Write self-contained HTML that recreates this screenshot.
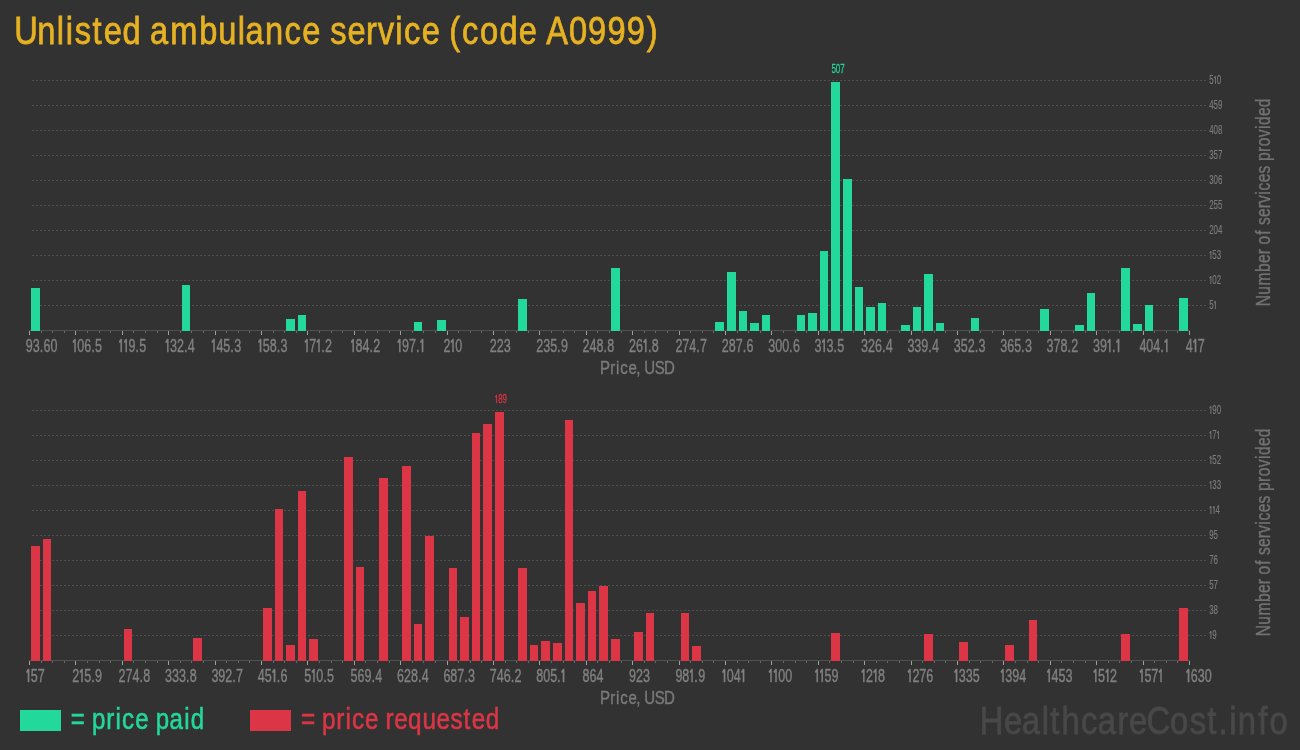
<!DOCTYPE html>
<html><head><meta charset="utf-8"><title>Unlisted ambulance service (code A0999)</title>
<style>html,body{margin:0;padding:0;background:#323232;overflow:hidden}svg{display:block}text{font-family:"Liberation Sans",sans-serif}</style></head><body>
<svg width="1300" height="750" viewBox="0 0 1300 750">
<rect width="1300" height="750" fill="#323232"/>
<text transform="translate(0 43.9) scale(0.8357 1)" x="17.01 44.69 67.98 78.82 89.60 110.63 124.17 146.49 169.06 179.47 203.73 238.40 261.29 284.53 293.90 317.24 340.54 361.56 383.16 395.06 415.74 438.05 451.87 472.84 483.55 504.57 526.17 537.60 552.74 574.31 597.64 620.61 642.21 653.52 680.78 703.64 726.81 749.98 773.83" y="0" font-size="39" fill="#e6b222" stroke="#e6b222" stroke-width="0.8">Unlisted ambulance service (code A0999)</text>
<line x1="32" y1="80.5" x2="1206" y2="80.5" stroke="#4e4e4e" stroke-width="1" stroke-dasharray="2 2"/>
<line x1="32" y1="105.5" x2="1206" y2="105.5" stroke="#4e4e4e" stroke-width="1" stroke-dasharray="2 2"/>
<line x1="32" y1="130.5" x2="1206" y2="130.5" stroke="#4e4e4e" stroke-width="1" stroke-dasharray="2 2"/>
<line x1="32" y1="155.5" x2="1206" y2="155.5" stroke="#4e4e4e" stroke-width="1" stroke-dasharray="2 2"/>
<line x1="32" y1="180.5" x2="1206" y2="180.5" stroke="#4e4e4e" stroke-width="1" stroke-dasharray="2 2"/>
<line x1="32" y1="205.5" x2="1206" y2="205.5" stroke="#4e4e4e" stroke-width="1" stroke-dasharray="2 2"/>
<line x1="32" y1="230.5" x2="1206" y2="230.5" stroke="#4e4e4e" stroke-width="1" stroke-dasharray="2 2"/>
<line x1="32" y1="255.5" x2="1206" y2="255.5" stroke="#4e4e4e" stroke-width="1" stroke-dasharray="2 2"/>
<line x1="32" y1="280.5" x2="1206" y2="280.5" stroke="#4e4e4e" stroke-width="1" stroke-dasharray="2 2"/>
<line x1="32" y1="305.5" x2="1206" y2="305.5" stroke="#4e4e4e" stroke-width="1" stroke-dasharray="2 2"/>
<rect x="29" y="330" width="1161" height="1" fill="#505050"/>
<rect x="29" y="331" width="1" height="4" fill="#a0a0a0"/>
<rect x="41" y="331" width="1" height="2" fill="#6a6a6a"/>
<rect x="52" y="331" width="1" height="2" fill="#6a6a6a"/>
<rect x="64" y="331" width="1" height="2" fill="#6a6a6a"/>
<rect x="75" y="331" width="1" height="4" fill="#a0a0a0"/>
<rect x="87" y="331" width="1" height="2" fill="#6a6a6a"/>
<rect x="99" y="331" width="1" height="2" fill="#6a6a6a"/>
<rect x="110" y="331" width="1" height="2" fill="#6a6a6a"/>
<rect x="122" y="331" width="1" height="4" fill="#a0a0a0"/>
<rect x="133" y="331" width="1" height="2" fill="#6a6a6a"/>
<rect x="145" y="331" width="1" height="2" fill="#6a6a6a"/>
<rect x="157" y="331" width="1" height="2" fill="#6a6a6a"/>
<rect x="168" y="331" width="1" height="4" fill="#a0a0a0"/>
<rect x="180" y="331" width="1" height="2" fill="#6a6a6a"/>
<rect x="191" y="331" width="1" height="2" fill="#6a6a6a"/>
<rect x="203" y="331" width="1" height="2" fill="#6a6a6a"/>
<rect x="215" y="331" width="1" height="4" fill="#a0a0a0"/>
<rect x="226" y="331" width="1" height="2" fill="#6a6a6a"/>
<rect x="238" y="331" width="1" height="2" fill="#6a6a6a"/>
<rect x="249" y="331" width="1" height="2" fill="#6a6a6a"/>
<rect x="261" y="331" width="1" height="4" fill="#a0a0a0"/>
<rect x="273" y="331" width="1" height="2" fill="#6a6a6a"/>
<rect x="284" y="331" width="1" height="2" fill="#6a6a6a"/>
<rect x="296" y="331" width="1" height="2" fill="#6a6a6a"/>
<rect x="307" y="331" width="1" height="4" fill="#a0a0a0"/>
<rect x="319" y="331" width="1" height="2" fill="#6a6a6a"/>
<rect x="331" y="331" width="1" height="2" fill="#6a6a6a"/>
<rect x="342" y="331" width="1" height="2" fill="#6a6a6a"/>
<rect x="354" y="331" width="1" height="4" fill="#a0a0a0"/>
<rect x="365" y="331" width="1" height="2" fill="#6a6a6a"/>
<rect x="377" y="331" width="1" height="2" fill="#6a6a6a"/>
<rect x="389" y="331" width="1" height="2" fill="#6a6a6a"/>
<rect x="400" y="331" width="1" height="4" fill="#a0a0a0"/>
<rect x="412" y="331" width="1" height="2" fill="#6a6a6a"/>
<rect x="423" y="331" width="1" height="2" fill="#6a6a6a"/>
<rect x="435" y="331" width="1" height="2" fill="#6a6a6a"/>
<rect x="447" y="331" width="1" height="4" fill="#a0a0a0"/>
<rect x="458" y="331" width="1" height="2" fill="#6a6a6a"/>
<rect x="470" y="331" width="1" height="2" fill="#6a6a6a"/>
<rect x="481" y="331" width="1" height="2" fill="#6a6a6a"/>
<rect x="493" y="331" width="1" height="4" fill="#a0a0a0"/>
<rect x="505" y="331" width="1" height="2" fill="#6a6a6a"/>
<rect x="516" y="331" width="1" height="2" fill="#6a6a6a"/>
<rect x="528" y="331" width="1" height="2" fill="#6a6a6a"/>
<rect x="539" y="331" width="1" height="4" fill="#a0a0a0"/>
<rect x="551" y="331" width="1" height="2" fill="#6a6a6a"/>
<rect x="563" y="331" width="1" height="2" fill="#6a6a6a"/>
<rect x="574" y="331" width="1" height="2" fill="#6a6a6a"/>
<rect x="586" y="331" width="1" height="4" fill="#a0a0a0"/>
<rect x="597" y="331" width="1" height="2" fill="#6a6a6a"/>
<rect x="609" y="331" width="1" height="2" fill="#6a6a6a"/>
<rect x="621" y="331" width="1" height="2" fill="#6a6a6a"/>
<rect x="632" y="331" width="1" height="4" fill="#a0a0a0"/>
<rect x="644" y="331" width="1" height="2" fill="#6a6a6a"/>
<rect x="655" y="331" width="1" height="2" fill="#6a6a6a"/>
<rect x="667" y="331" width="1" height="2" fill="#6a6a6a"/>
<rect x="679" y="331" width="1" height="4" fill="#a0a0a0"/>
<rect x="690" y="331" width="1" height="2" fill="#6a6a6a"/>
<rect x="702" y="331" width="1" height="2" fill="#6a6a6a"/>
<rect x="713" y="331" width="1" height="2" fill="#6a6a6a"/>
<rect x="725" y="331" width="1" height="4" fill="#a0a0a0"/>
<rect x="737" y="331" width="1" height="2" fill="#6a6a6a"/>
<rect x="748" y="331" width="1" height="2" fill="#6a6a6a"/>
<rect x="760" y="331" width="1" height="2" fill="#6a6a6a"/>
<rect x="771" y="331" width="1" height="4" fill="#a0a0a0"/>
<rect x="783" y="331" width="1" height="2" fill="#6a6a6a"/>
<rect x="795" y="331" width="1" height="2" fill="#6a6a6a"/>
<rect x="806" y="331" width="1" height="2" fill="#6a6a6a"/>
<rect x="818" y="331" width="1" height="4" fill="#a0a0a0"/>
<rect x="829" y="331" width="1" height="2" fill="#6a6a6a"/>
<rect x="841" y="331" width="1" height="2" fill="#6a6a6a"/>
<rect x="853" y="331" width="1" height="2" fill="#6a6a6a"/>
<rect x="864" y="331" width="1" height="4" fill="#a0a0a0"/>
<rect x="876" y="331" width="1" height="2" fill="#6a6a6a"/>
<rect x="887" y="331" width="1" height="2" fill="#6a6a6a"/>
<rect x="899" y="331" width="1" height="2" fill="#6a6a6a"/>
<rect x="911" y="331" width="1" height="4" fill="#a0a0a0"/>
<rect x="922" y="331" width="1" height="2" fill="#6a6a6a"/>
<rect x="934" y="331" width="1" height="2" fill="#6a6a6a"/>
<rect x="945" y="331" width="1" height="2" fill="#6a6a6a"/>
<rect x="957" y="331" width="1" height="4" fill="#a0a0a0"/>
<rect x="969" y="331" width="1" height="2" fill="#6a6a6a"/>
<rect x="980" y="331" width="1" height="2" fill="#6a6a6a"/>
<rect x="992" y="331" width="1" height="2" fill="#6a6a6a"/>
<rect x="1003" y="331" width="1" height="4" fill="#a0a0a0"/>
<rect x="1015" y="331" width="1" height="2" fill="#6a6a6a"/>
<rect x="1027" y="331" width="1" height="2" fill="#6a6a6a"/>
<rect x="1038" y="331" width="1" height="2" fill="#6a6a6a"/>
<rect x="1050" y="331" width="1" height="4" fill="#a0a0a0"/>
<rect x="1061" y="331" width="1" height="2" fill="#6a6a6a"/>
<rect x="1073" y="331" width="1" height="2" fill="#6a6a6a"/>
<rect x="1085" y="331" width="1" height="2" fill="#6a6a6a"/>
<rect x="1096" y="331" width="1" height="4" fill="#a0a0a0"/>
<rect x="1108" y="331" width="1" height="2" fill="#6a6a6a"/>
<rect x="1119" y="331" width="1" height="2" fill="#6a6a6a"/>
<rect x="1131" y="331" width="1" height="2" fill="#6a6a6a"/>
<rect x="1143" y="331" width="1" height="4" fill="#a0a0a0"/>
<rect x="1154" y="331" width="1" height="2" fill="#6a6a6a"/>
<rect x="1166" y="331" width="1" height="2" fill="#6a6a6a"/>
<rect x="1177" y="331" width="1" height="2" fill="#6a6a6a"/>
<rect x="1189" y="331" width="1" height="4" fill="#a0a0a0"/>
<rect x="31" y="288" width="9" height="43" fill="#22d89b"/>
<rect x="182" y="285" width="8" height="46" fill="#22d89b"/>
<rect x="286" y="319" width="9" height="12" fill="#22d89b"/>
<rect x="298" y="315" width="8" height="16" fill="#22d89b"/>
<rect x="414" y="322" width="8" height="9" fill="#22d89b"/>
<rect x="437" y="320" width="9" height="11" fill="#22d89b"/>
<rect x="518" y="299" width="9" height="32" fill="#22d89b"/>
<rect x="611" y="268" width="9" height="63" fill="#22d89b"/>
<rect x="715" y="322" width="9" height="9" fill="#22d89b"/>
<rect x="727" y="272" width="9" height="59" fill="#22d89b"/>
<rect x="739" y="311" width="8" height="20" fill="#22d89b"/>
<rect x="750" y="323" width="9" height="8" fill="#22d89b"/>
<rect x="762" y="315" width="8" height="16" fill="#22d89b"/>
<rect x="797" y="315" width="8" height="16" fill="#22d89b"/>
<rect x="808" y="313" width="9" height="18" fill="#22d89b"/>
<rect x="820" y="251" width="8" height="80" fill="#22d89b"/>
<rect x="831" y="82" width="9" height="249" fill="#22d89b"/>
<rect x="843" y="179" width="9" height="152" fill="#22d89b"/>
<rect x="855" y="287" width="8" height="44" fill="#22d89b"/>
<rect x="866" y="307" width="9" height="24" fill="#22d89b"/>
<rect x="878" y="303" width="8" height="28" fill="#22d89b"/>
<rect x="901" y="325" width="9" height="6" fill="#22d89b"/>
<rect x="913" y="307" width="8" height="24" fill="#22d89b"/>
<rect x="924" y="274" width="9" height="57" fill="#22d89b"/>
<rect x="936" y="323" width="8" height="8" fill="#22d89b"/>
<rect x="971" y="318" width="8" height="13" fill="#22d89b"/>
<rect x="1040" y="309" width="9" height="22" fill="#22d89b"/>
<rect x="1075" y="325" width="9" height="6" fill="#22d89b"/>
<rect x="1087" y="293" width="8" height="38" fill="#22d89b"/>
<rect x="1121" y="268" width="9" height="63" fill="#22d89b"/>
<rect x="1133" y="324" width="9" height="7" fill="#22d89b"/>
<rect x="1145" y="305" width="8" height="26" fill="#22d89b"/>
<rect x="1179" y="298" width="9" height="33" fill="#22d89b"/>
<text transform="translate(25.80 351.50) scale(0.66 1)" x="0.00 10.56 21.13 26.89 37.45" y="0" font-size="19" fill="#808080" stroke="#808080" stroke-width="0.4">93.60</text>
<text transform="translate(72.20 351.50) scale(0.66 1)" x="-1.57 7.58 18.14 28.70 34.46" y="0" font-size="19" fill="#808080" stroke="#808080" stroke-width="0.4"><tspan font-weight="bold" font-family="NanumGothic,'Liberation Sans',sans-serif" font-size="17.59">1</tspan>06.5</text>
<text transform="translate(118.60 351.50) scale(0.66 1)" x="-1.57 6.01 15.15 25.72 31.47" y="0" font-size="19" fill="#808080" stroke="#808080" stroke-width="0.4"><tspan font-weight="bold" font-family="NanumGothic,'Liberation Sans',sans-serif" font-size="17.59">1</tspan><tspan font-weight="bold" font-family="NanumGothic,'Liberation Sans',sans-serif" font-size="17.59">1</tspan>9.5</text>
<text transform="translate(165.00 351.50) scale(0.66 1)" x="-1.57 7.58 18.14 28.70 34.46" y="0" font-size="19" fill="#808080" stroke="#808080" stroke-width="0.4"><tspan font-weight="bold" font-family="NanumGothic,'Liberation Sans',sans-serif" font-size="17.59">1</tspan>32.4</text>
<text transform="translate(211.40 351.50) scale(0.66 1)" x="-1.57 7.58 18.14 28.70 34.46" y="0" font-size="19" fill="#808080" stroke="#808080" stroke-width="0.4"><tspan font-weight="bold" font-family="NanumGothic,'Liberation Sans',sans-serif" font-size="17.59">1</tspan>45.3</text>
<text transform="translate(257.80 351.50) scale(0.66 1)" x="-1.57 7.58 18.14 28.70 34.46" y="0" font-size="19" fill="#808080" stroke="#808080" stroke-width="0.4"><tspan font-weight="bold" font-family="NanumGothic,'Liberation Sans',sans-serif" font-size="17.59">1</tspan>58.3</text>
<text transform="translate(304.20 351.50) scale(0.66 1)" x="-1.57 7.58 16.57 25.72 31.47" y="0" font-size="19" fill="#808080" stroke="#808080" stroke-width="0.4"><tspan font-weight="bold" font-family="NanumGothic,'Liberation Sans',sans-serif" font-size="17.59">1</tspan>7<tspan font-weight="bold" font-family="NanumGothic,'Liberation Sans',sans-serif" font-size="17.59">1</tspan>.2</text>
<text transform="translate(350.60 351.50) scale(0.66 1)" x="-1.57 7.58 18.14 28.70 34.46" y="0" font-size="19" fill="#808080" stroke="#808080" stroke-width="0.4"><tspan font-weight="bold" font-family="NanumGothic,'Liberation Sans',sans-serif" font-size="17.59">1</tspan>84.2</text>
<text transform="translate(397.00 351.50) scale(0.66 1)" x="-1.57 7.58 18.14 28.70 32.89" y="0" font-size="19" fill="#808080" stroke="#808080" stroke-width="0.4"><tspan font-weight="bold" font-family="NanumGothic,'Liberation Sans',sans-serif" font-size="17.59">1</tspan>97.<tspan font-weight="bold" font-family="NanumGothic,'Liberation Sans',sans-serif" font-size="17.59">1</tspan></text>
<text transform="translate(443.40 351.50) scale(0.66 1)" x="0.00 8.99 18.14" y="0" font-size="19" fill="#808080" stroke="#808080" stroke-width="0.4">2<tspan font-weight="bold" font-family="NanumGothic,'Liberation Sans',sans-serif" font-size="17.59">1</tspan>0</text>
<text transform="translate(489.80 351.50) scale(0.66 1)" x="0.00 10.56 21.13" y="0" font-size="19" fill="#808080" stroke="#808080" stroke-width="0.4">223</text>
<text transform="translate(536.20 351.50) scale(0.66 1)" x="0.00 10.56 21.13 31.69 37.45" y="0" font-size="19" fill="#808080" stroke="#808080" stroke-width="0.4">235.9</text>
<text transform="translate(582.60 351.50) scale(0.66 1)" x="0.00 10.56 21.13 31.69 37.45" y="0" font-size="19" fill="#808080" stroke="#808080" stroke-width="0.4">248.8</text>
<text transform="translate(629.00 351.50) scale(0.66 1)" x="0.00 10.56 19.56 28.70 34.46" y="0" font-size="19" fill="#808080" stroke="#808080" stroke-width="0.4">26<tspan font-weight="bold" font-family="NanumGothic,'Liberation Sans',sans-serif" font-size="17.59">1</tspan>.8</text>
<text transform="translate(675.40 351.50) scale(0.66 1)" x="0.00 10.56 21.13 31.69 37.45" y="0" font-size="19" fill="#808080" stroke="#808080" stroke-width="0.4">274.7</text>
<text transform="translate(721.80 351.50) scale(0.66 1)" x="0.00 10.56 21.13 31.69 37.45" y="0" font-size="19" fill="#808080" stroke="#808080" stroke-width="0.4">287.6</text>
<text transform="translate(768.20 351.50) scale(0.66 1)" x="0.00 10.56 21.13 31.69 37.45" y="0" font-size="19" fill="#808080" stroke="#808080" stroke-width="0.4">300.6</text>
<text transform="translate(814.60 351.50) scale(0.66 1)" x="0.00 8.99 18.14 28.70 34.46" y="0" font-size="19" fill="#808080" stroke="#808080" stroke-width="0.4">3<tspan font-weight="bold" font-family="NanumGothic,'Liberation Sans',sans-serif" font-size="17.59">1</tspan>3.5</text>
<text transform="translate(861.00 351.50) scale(0.66 1)" x="0.00 10.56 21.13 31.69 37.45" y="0" font-size="19" fill="#808080" stroke="#808080" stroke-width="0.4">326.4</text>
<text transform="translate(907.40 351.50) scale(0.66 1)" x="0.00 10.56 21.13 31.69 37.45" y="0" font-size="19" fill="#808080" stroke="#808080" stroke-width="0.4">339.4</text>
<text transform="translate(953.80 351.50) scale(0.66 1)" x="0.00 10.56 21.13 31.69 37.45" y="0" font-size="19" fill="#808080" stroke="#808080" stroke-width="0.4">352.3</text>
<text transform="translate(1000.20 351.50) scale(0.66 1)" x="0.00 10.56 21.13 31.69 37.45" y="0" font-size="19" fill="#808080" stroke="#808080" stroke-width="0.4">365.3</text>
<text transform="translate(1046.60 351.50) scale(0.66 1)" x="0.00 10.56 21.13 31.69 37.45" y="0" font-size="19" fill="#808080" stroke="#808080" stroke-width="0.4">378.2</text>
<text transform="translate(1093.00 351.50) scale(0.66 1)" x="0.00 10.56 19.56 28.70 32.89" y="0" font-size="19" fill="#808080" stroke="#808080" stroke-width="0.4">39<tspan font-weight="bold" font-family="NanumGothic,'Liberation Sans',sans-serif" font-size="17.59">1</tspan>.<tspan font-weight="bold" font-family="NanumGothic,'Liberation Sans',sans-serif" font-size="17.59">1</tspan></text>
<text transform="translate(1139.40 351.50) scale(0.66 1)" x="0.00 10.56 21.13 31.69 35.88" y="0" font-size="19" fill="#808080" stroke="#808080" stroke-width="0.4">404.<tspan font-weight="bold" font-family="NanumGothic,'Liberation Sans',sans-serif" font-size="17.59">1</tspan></text>
<text transform="translate(1185.80 351.50) scale(0.66 1)" x="0.00 8.99 18.14" y="0" font-size="19" fill="#808080" stroke="#808080" stroke-width="0.4">4<tspan font-weight="bold" font-family="NanumGothic,'Liberation Sans',sans-serif" font-size="17.59">1</tspan>7</text>
<text transform="translate(1209.20 83.80) scale(0.66 1)" x="0.00 5.68 11.46" y="0" font-size="12" fill="#7c7c7c" stroke="#7c7c7c" stroke-width="0.15">5<tspan font-weight="bold" font-family="NanumGothic,'Liberation Sans',sans-serif" font-size="11.11">1</tspan>0</text>
<text transform="translate(1209.20 108.80) scale(0.66 1)" x="0.00 6.67 13.34" y="0" font-size="12" fill="#7c7c7c" stroke="#7c7c7c" stroke-width="0.15">459</text>
<text transform="translate(1209.20 133.80) scale(0.66 1)" x="0.00 6.67 13.34" y="0" font-size="12" fill="#7c7c7c" stroke="#7c7c7c" stroke-width="0.15">408</text>
<text transform="translate(1209.20 158.80) scale(0.66 1)" x="0.00 6.67 13.34" y="0" font-size="12" fill="#7c7c7c" stroke="#7c7c7c" stroke-width="0.15">357</text>
<text transform="translate(1209.20 183.80) scale(0.66 1)" x="0.00 6.67 13.34" y="0" font-size="12" fill="#7c7c7c" stroke="#7c7c7c" stroke-width="0.15">306</text>
<text transform="translate(1209.20 208.80) scale(0.66 1)" x="0.00 6.67 13.34" y="0" font-size="12" fill="#7c7c7c" stroke="#7c7c7c" stroke-width="0.15">255</text>
<text transform="translate(1209.20 233.80) scale(0.66 1)" x="0.00 6.67 13.34" y="0" font-size="12" fill="#7c7c7c" stroke="#7c7c7c" stroke-width="0.15">204</text>
<text transform="translate(1209.20 258.80) scale(0.66 1)" x="-0.99 4.78 11.46" y="0" font-size="12" fill="#7c7c7c" stroke="#7c7c7c" stroke-width="0.15"><tspan font-weight="bold" font-family="NanumGothic,'Liberation Sans',sans-serif" font-size="11.11">1</tspan>53</text>
<text transform="translate(1209.20 283.80) scale(0.66 1)" x="-0.99 4.78 11.46" y="0" font-size="12" fill="#7c7c7c" stroke="#7c7c7c" stroke-width="0.15"><tspan font-weight="bold" font-family="NanumGothic,'Liberation Sans',sans-serif" font-size="11.11">1</tspan>02</text>
<text transform="translate(1209.20 308.80) scale(0.66 1)" x="0.00 5.68" y="0" font-size="12" fill="#7c7c7c" stroke="#7c7c7c" stroke-width="0.15">5<tspan font-weight="bold" font-family="NanumGothic,'Liberation Sans',sans-serif" font-size="11.11">1</tspan></text>
<text transform="translate(0 374.2) scale(0.8128 1)" x="738.20 750.83 757.88 763.06 773.16 782.76 787.90 792.76 805.42 817.02" y="0" font-size="18.5" fill="#7a7a7a" stroke="#7a7a7a" stroke-width="0.4">Price, USD</text>
<text transform="translate(1270.2 305.0) rotate(-90) scale(0.7975 1)" x="-1.45 12.88 24.41 41.45 52.63 63.60 70.34 75.98 88.23 94.45 100.19 110.32 121.29 128.05 138.38 143.58 153.87 165.03 175.06 180.59 191.97 199.06 210.27 220.60 225.63 236.89 247.83" y="0" font-size="19.5" fill="#727272" stroke="#727272" stroke-width="0.4">Number of services provided</text>
<text transform="translate(831.40 73.00) scale(0.66 1)" x="0.00 6.67 13.34" y="0" font-size="12" fill="#22d89b" stroke="#22d89b" stroke-width="0.25">507</text>
<line x1="32" y1="410.5" x2="1206" y2="410.5" stroke="#4e4e4e" stroke-width="1" stroke-dasharray="2 2"/>
<line x1="32" y1="435.5" x2="1206" y2="435.5" stroke="#4e4e4e" stroke-width="1" stroke-dasharray="2 2"/>
<line x1="32" y1="460.5" x2="1206" y2="460.5" stroke="#4e4e4e" stroke-width="1" stroke-dasharray="2 2"/>
<line x1="32" y1="485.5" x2="1206" y2="485.5" stroke="#4e4e4e" stroke-width="1" stroke-dasharray="2 2"/>
<line x1="32" y1="510.5" x2="1206" y2="510.5" stroke="#4e4e4e" stroke-width="1" stroke-dasharray="2 2"/>
<line x1="32" y1="535.5" x2="1206" y2="535.5" stroke="#4e4e4e" stroke-width="1" stroke-dasharray="2 2"/>
<line x1="32" y1="560.5" x2="1206" y2="560.5" stroke="#4e4e4e" stroke-width="1" stroke-dasharray="2 2"/>
<line x1="32" y1="585.5" x2="1206" y2="585.5" stroke="#4e4e4e" stroke-width="1" stroke-dasharray="2 2"/>
<line x1="32" y1="610.5" x2="1206" y2="610.5" stroke="#4e4e4e" stroke-width="1" stroke-dasharray="2 2"/>
<line x1="32" y1="635.5" x2="1206" y2="635.5" stroke="#4e4e4e" stroke-width="1" stroke-dasharray="2 2"/>
<rect x="29" y="660" width="1161" height="1" fill="#505050"/>
<rect x="29" y="661" width="1" height="4" fill="#a0a0a0"/>
<rect x="41" y="661" width="1" height="2" fill="#6a6a6a"/>
<rect x="52" y="661" width="1" height="2" fill="#6a6a6a"/>
<rect x="64" y="661" width="1" height="2" fill="#6a6a6a"/>
<rect x="75" y="661" width="1" height="4" fill="#a0a0a0"/>
<rect x="87" y="661" width="1" height="2" fill="#6a6a6a"/>
<rect x="99" y="661" width="1" height="2" fill="#6a6a6a"/>
<rect x="110" y="661" width="1" height="2" fill="#6a6a6a"/>
<rect x="122" y="661" width="1" height="4" fill="#a0a0a0"/>
<rect x="133" y="661" width="1" height="2" fill="#6a6a6a"/>
<rect x="145" y="661" width="1" height="2" fill="#6a6a6a"/>
<rect x="157" y="661" width="1" height="2" fill="#6a6a6a"/>
<rect x="168" y="661" width="1" height="4" fill="#a0a0a0"/>
<rect x="180" y="661" width="1" height="2" fill="#6a6a6a"/>
<rect x="191" y="661" width="1" height="2" fill="#6a6a6a"/>
<rect x="203" y="661" width="1" height="2" fill="#6a6a6a"/>
<rect x="215" y="661" width="1" height="4" fill="#a0a0a0"/>
<rect x="226" y="661" width="1" height="2" fill="#6a6a6a"/>
<rect x="238" y="661" width="1" height="2" fill="#6a6a6a"/>
<rect x="249" y="661" width="1" height="2" fill="#6a6a6a"/>
<rect x="261" y="661" width="1" height="4" fill="#a0a0a0"/>
<rect x="273" y="661" width="1" height="2" fill="#6a6a6a"/>
<rect x="284" y="661" width="1" height="2" fill="#6a6a6a"/>
<rect x="296" y="661" width="1" height="2" fill="#6a6a6a"/>
<rect x="307" y="661" width="1" height="4" fill="#a0a0a0"/>
<rect x="319" y="661" width="1" height="2" fill="#6a6a6a"/>
<rect x="331" y="661" width="1" height="2" fill="#6a6a6a"/>
<rect x="342" y="661" width="1" height="2" fill="#6a6a6a"/>
<rect x="354" y="661" width="1" height="4" fill="#a0a0a0"/>
<rect x="365" y="661" width="1" height="2" fill="#6a6a6a"/>
<rect x="377" y="661" width="1" height="2" fill="#6a6a6a"/>
<rect x="389" y="661" width="1" height="2" fill="#6a6a6a"/>
<rect x="400" y="661" width="1" height="4" fill="#a0a0a0"/>
<rect x="412" y="661" width="1" height="2" fill="#6a6a6a"/>
<rect x="423" y="661" width="1" height="2" fill="#6a6a6a"/>
<rect x="435" y="661" width="1" height="2" fill="#6a6a6a"/>
<rect x="447" y="661" width="1" height="4" fill="#a0a0a0"/>
<rect x="458" y="661" width="1" height="2" fill="#6a6a6a"/>
<rect x="470" y="661" width="1" height="2" fill="#6a6a6a"/>
<rect x="481" y="661" width="1" height="2" fill="#6a6a6a"/>
<rect x="493" y="661" width="1" height="4" fill="#a0a0a0"/>
<rect x="505" y="661" width="1" height="2" fill="#6a6a6a"/>
<rect x="516" y="661" width="1" height="2" fill="#6a6a6a"/>
<rect x="528" y="661" width="1" height="2" fill="#6a6a6a"/>
<rect x="539" y="661" width="1" height="4" fill="#a0a0a0"/>
<rect x="551" y="661" width="1" height="2" fill="#6a6a6a"/>
<rect x="563" y="661" width="1" height="2" fill="#6a6a6a"/>
<rect x="574" y="661" width="1" height="2" fill="#6a6a6a"/>
<rect x="586" y="661" width="1" height="4" fill="#a0a0a0"/>
<rect x="597" y="661" width="1" height="2" fill="#6a6a6a"/>
<rect x="609" y="661" width="1" height="2" fill="#6a6a6a"/>
<rect x="621" y="661" width="1" height="2" fill="#6a6a6a"/>
<rect x="632" y="661" width="1" height="4" fill="#a0a0a0"/>
<rect x="644" y="661" width="1" height="2" fill="#6a6a6a"/>
<rect x="655" y="661" width="1" height="2" fill="#6a6a6a"/>
<rect x="667" y="661" width="1" height="2" fill="#6a6a6a"/>
<rect x="679" y="661" width="1" height="4" fill="#a0a0a0"/>
<rect x="690" y="661" width="1" height="2" fill="#6a6a6a"/>
<rect x="702" y="661" width="1" height="2" fill="#6a6a6a"/>
<rect x="713" y="661" width="1" height="2" fill="#6a6a6a"/>
<rect x="725" y="661" width="1" height="4" fill="#a0a0a0"/>
<rect x="737" y="661" width="1" height="2" fill="#6a6a6a"/>
<rect x="748" y="661" width="1" height="2" fill="#6a6a6a"/>
<rect x="760" y="661" width="1" height="2" fill="#6a6a6a"/>
<rect x="771" y="661" width="1" height="4" fill="#a0a0a0"/>
<rect x="783" y="661" width="1" height="2" fill="#6a6a6a"/>
<rect x="795" y="661" width="1" height="2" fill="#6a6a6a"/>
<rect x="806" y="661" width="1" height="2" fill="#6a6a6a"/>
<rect x="818" y="661" width="1" height="4" fill="#a0a0a0"/>
<rect x="829" y="661" width="1" height="2" fill="#6a6a6a"/>
<rect x="841" y="661" width="1" height="2" fill="#6a6a6a"/>
<rect x="853" y="661" width="1" height="2" fill="#6a6a6a"/>
<rect x="864" y="661" width="1" height="4" fill="#a0a0a0"/>
<rect x="876" y="661" width="1" height="2" fill="#6a6a6a"/>
<rect x="887" y="661" width="1" height="2" fill="#6a6a6a"/>
<rect x="899" y="661" width="1" height="2" fill="#6a6a6a"/>
<rect x="911" y="661" width="1" height="4" fill="#a0a0a0"/>
<rect x="922" y="661" width="1" height="2" fill="#6a6a6a"/>
<rect x="934" y="661" width="1" height="2" fill="#6a6a6a"/>
<rect x="945" y="661" width="1" height="2" fill="#6a6a6a"/>
<rect x="957" y="661" width="1" height="4" fill="#a0a0a0"/>
<rect x="969" y="661" width="1" height="2" fill="#6a6a6a"/>
<rect x="980" y="661" width="1" height="2" fill="#6a6a6a"/>
<rect x="992" y="661" width="1" height="2" fill="#6a6a6a"/>
<rect x="1003" y="661" width="1" height="4" fill="#a0a0a0"/>
<rect x="1015" y="661" width="1" height="2" fill="#6a6a6a"/>
<rect x="1027" y="661" width="1" height="2" fill="#6a6a6a"/>
<rect x="1038" y="661" width="1" height="2" fill="#6a6a6a"/>
<rect x="1050" y="661" width="1" height="4" fill="#a0a0a0"/>
<rect x="1061" y="661" width="1" height="2" fill="#6a6a6a"/>
<rect x="1073" y="661" width="1" height="2" fill="#6a6a6a"/>
<rect x="1085" y="661" width="1" height="2" fill="#6a6a6a"/>
<rect x="1096" y="661" width="1" height="4" fill="#a0a0a0"/>
<rect x="1108" y="661" width="1" height="2" fill="#6a6a6a"/>
<rect x="1119" y="661" width="1" height="2" fill="#6a6a6a"/>
<rect x="1131" y="661" width="1" height="2" fill="#6a6a6a"/>
<rect x="1143" y="661" width="1" height="4" fill="#a0a0a0"/>
<rect x="1154" y="661" width="1" height="2" fill="#6a6a6a"/>
<rect x="1166" y="661" width="1" height="2" fill="#6a6a6a"/>
<rect x="1177" y="661" width="1" height="2" fill="#6a6a6a"/>
<rect x="1189" y="661" width="1" height="4" fill="#a0a0a0"/>
<rect x="31" y="546" width="9" height="115" fill="#dc3545"/>
<rect x="43" y="539" width="8" height="122" fill="#dc3545"/>
<rect x="124" y="629" width="8" height="32" fill="#dc3545"/>
<rect x="193" y="638" width="9" height="23" fill="#dc3545"/>
<rect x="263" y="608" width="9" height="53" fill="#dc3545"/>
<rect x="275" y="509" width="8" height="152" fill="#dc3545"/>
<rect x="286" y="645" width="9" height="16" fill="#dc3545"/>
<rect x="298" y="491" width="8" height="170" fill="#dc3545"/>
<rect x="309" y="639" width="9" height="22" fill="#dc3545"/>
<rect x="344" y="457" width="9" height="204" fill="#dc3545"/>
<rect x="356" y="567" width="8" height="94" fill="#dc3545"/>
<rect x="379" y="478" width="9" height="183" fill="#dc3545"/>
<rect x="402" y="466" width="9" height="195" fill="#dc3545"/>
<rect x="414" y="624" width="8" height="37" fill="#dc3545"/>
<rect x="425" y="536" width="9" height="125" fill="#dc3545"/>
<rect x="449" y="568" width="8" height="93" fill="#dc3545"/>
<rect x="460" y="617" width="9" height="44" fill="#dc3545"/>
<rect x="472" y="433" width="8" height="228" fill="#dc3545"/>
<rect x="483" y="424" width="9" height="237" fill="#dc3545"/>
<rect x="495" y="412" width="9" height="249" fill="#dc3545"/>
<rect x="518" y="568" width="9" height="93" fill="#dc3545"/>
<rect x="530" y="645" width="8" height="16" fill="#dc3545"/>
<rect x="541" y="641" width="9" height="20" fill="#dc3545"/>
<rect x="553" y="643" width="9" height="18" fill="#dc3545"/>
<rect x="565" y="420" width="8" height="241" fill="#dc3545"/>
<rect x="576" y="603" width="9" height="58" fill="#dc3545"/>
<rect x="588" y="591" width="8" height="70" fill="#dc3545"/>
<rect x="599" y="586" width="9" height="75" fill="#dc3545"/>
<rect x="611" y="639" width="9" height="22" fill="#dc3545"/>
<rect x="634" y="632" width="9" height="29" fill="#dc3545"/>
<rect x="646" y="613" width="8" height="48" fill="#dc3545"/>
<rect x="681" y="613" width="8" height="48" fill="#dc3545"/>
<rect x="692" y="646" width="9" height="15" fill="#dc3545"/>
<rect x="831" y="633" width="9" height="28" fill="#dc3545"/>
<rect x="924" y="634" width="9" height="27" fill="#dc3545"/>
<rect x="959" y="642" width="9" height="19" fill="#dc3545"/>
<rect x="1005" y="645" width="9" height="16" fill="#dc3545"/>
<rect x="1029" y="620" width="8" height="41" fill="#dc3545"/>
<rect x="1121" y="634" width="9" height="27" fill="#dc3545"/>
<rect x="1179" y="608" width="9" height="53" fill="#dc3545"/>
<text transform="translate(25.80 681.50) scale(0.66 1)" x="-1.57 7.58 18.14" y="0" font-size="19" fill="#808080" stroke="#808080" stroke-width="0.4"><tspan font-weight="bold" font-family="NanumGothic,'Liberation Sans',sans-serif" font-size="17.59">1</tspan>57</text>
<text transform="translate(72.20 681.50) scale(0.66 1)" x="0.00 8.99 18.14 28.70 34.46" y="0" font-size="19" fill="#808080" stroke="#808080" stroke-width="0.4">2<tspan font-weight="bold" font-family="NanumGothic,'Liberation Sans',sans-serif" font-size="17.59">1</tspan>5.9</text>
<text transform="translate(118.60 681.50) scale(0.66 1)" x="0.00 10.56 21.13 31.69 37.45" y="0" font-size="19" fill="#808080" stroke="#808080" stroke-width="0.4">274.8</text>
<text transform="translate(165.00 681.50) scale(0.66 1)" x="0.00 10.56 21.13 31.69 37.45" y="0" font-size="19" fill="#808080" stroke="#808080" stroke-width="0.4">333.8</text>
<text transform="translate(211.40 681.50) scale(0.66 1)" x="0.00 10.56 21.13 31.69 37.45" y="0" font-size="19" fill="#808080" stroke="#808080" stroke-width="0.4">392.7</text>
<text transform="translate(257.80 681.50) scale(0.66 1)" x="0.00 10.56 19.56 28.70 34.46" y="0" font-size="19" fill="#808080" stroke="#808080" stroke-width="0.4">45<tspan font-weight="bold" font-family="NanumGothic,'Liberation Sans',sans-serif" font-size="17.59">1</tspan>.6</text>
<text transform="translate(304.20 681.50) scale(0.66 1)" x="0.00 8.99 18.14 28.70 34.46" y="0" font-size="19" fill="#808080" stroke="#808080" stroke-width="0.4">5<tspan font-weight="bold" font-family="NanumGothic,'Liberation Sans',sans-serif" font-size="17.59">1</tspan>0.5</text>
<text transform="translate(350.60 681.50) scale(0.66 1)" x="0.00 10.56 21.13 31.69 37.45" y="0" font-size="19" fill="#808080" stroke="#808080" stroke-width="0.4">569.4</text>
<text transform="translate(397.00 681.50) scale(0.66 1)" x="0.00 10.56 21.13 31.69 37.45" y="0" font-size="19" fill="#808080" stroke="#808080" stroke-width="0.4">628.4</text>
<text transform="translate(443.40 681.50) scale(0.66 1)" x="0.00 10.56 21.13 31.69 37.45" y="0" font-size="19" fill="#808080" stroke="#808080" stroke-width="0.4">687.3</text>
<text transform="translate(489.80 681.50) scale(0.66 1)" x="0.00 10.56 21.13 31.69 37.45" y="0" font-size="19" fill="#808080" stroke="#808080" stroke-width="0.4">746.2</text>
<text transform="translate(536.20 681.50) scale(0.66 1)" x="0.00 10.56 21.13 31.69 35.88" y="0" font-size="19" fill="#808080" stroke="#808080" stroke-width="0.4">805.<tspan font-weight="bold" font-family="NanumGothic,'Liberation Sans',sans-serif" font-size="17.59">1</tspan></text>
<text transform="translate(582.60 681.50) scale(0.66 1)" x="0.00 10.56 21.13" y="0" font-size="19" fill="#808080" stroke="#808080" stroke-width="0.4">864</text>
<text transform="translate(629.00 681.50) scale(0.66 1)" x="0.00 10.56 21.13" y="0" font-size="19" fill="#808080" stroke="#808080" stroke-width="0.4">923</text>
<text transform="translate(675.40 681.50) scale(0.66 1)" x="0.00 10.56 19.56 28.70 34.46" y="0" font-size="19" fill="#808080" stroke="#808080" stroke-width="0.4">98<tspan font-weight="bold" font-family="NanumGothic,'Liberation Sans',sans-serif" font-size="17.59">1</tspan>.9</text>
<text transform="translate(721.80 681.50) scale(0.66 1)" x="-1.57 7.58 18.14 27.13" y="0" font-size="19" fill="#808080" stroke="#808080" stroke-width="0.4"><tspan font-weight="bold" font-family="NanumGothic,'Liberation Sans',sans-serif" font-size="17.59">1</tspan>04<tspan font-weight="bold" font-family="NanumGothic,'Liberation Sans',sans-serif" font-size="17.59">1</tspan></text>
<text transform="translate(768.20 681.50) scale(0.66 1)" x="-1.57 6.01 15.15 25.72" y="0" font-size="19" fill="#808080" stroke="#808080" stroke-width="0.4"><tspan font-weight="bold" font-family="NanumGothic,'Liberation Sans',sans-serif" font-size="17.59">1</tspan><tspan font-weight="bold" font-family="NanumGothic,'Liberation Sans',sans-serif" font-size="17.59">1</tspan>00</text>
<text transform="translate(814.60 681.50) scale(0.66 1)" x="-1.57 6.01 15.15 25.72" y="0" font-size="19" fill="#808080" stroke="#808080" stroke-width="0.4"><tspan font-weight="bold" font-family="NanumGothic,'Liberation Sans',sans-serif" font-size="17.59">1</tspan><tspan font-weight="bold" font-family="NanumGothic,'Liberation Sans',sans-serif" font-size="17.59">1</tspan>59</text>
<text transform="translate(861.00 681.50) scale(0.66 1)" x="-1.57 7.58 16.57 25.72" y="0" font-size="19" fill="#808080" stroke="#808080" stroke-width="0.4"><tspan font-weight="bold" font-family="NanumGothic,'Liberation Sans',sans-serif" font-size="17.59">1</tspan>2<tspan font-weight="bold" font-family="NanumGothic,'Liberation Sans',sans-serif" font-size="17.59">1</tspan>8</text>
<text transform="translate(907.40 681.50) scale(0.66 1)" x="-1.57 7.58 18.14 28.70" y="0" font-size="19" fill="#808080" stroke="#808080" stroke-width="0.4"><tspan font-weight="bold" font-family="NanumGothic,'Liberation Sans',sans-serif" font-size="17.59">1</tspan>276</text>
<text transform="translate(953.80 681.50) scale(0.66 1)" x="-1.57 7.58 18.14 28.70" y="0" font-size="19" fill="#808080" stroke="#808080" stroke-width="0.4"><tspan font-weight="bold" font-family="NanumGothic,'Liberation Sans',sans-serif" font-size="17.59">1</tspan>335</text>
<text transform="translate(1000.20 681.50) scale(0.66 1)" x="-1.57 7.58 18.14 28.70" y="0" font-size="19" fill="#808080" stroke="#808080" stroke-width="0.4"><tspan font-weight="bold" font-family="NanumGothic,'Liberation Sans',sans-serif" font-size="17.59">1</tspan>394</text>
<text transform="translate(1046.60 681.50) scale(0.66 1)" x="-1.57 7.58 18.14 28.70" y="0" font-size="19" fill="#808080" stroke="#808080" stroke-width="0.4"><tspan font-weight="bold" font-family="NanumGothic,'Liberation Sans',sans-serif" font-size="17.59">1</tspan>453</text>
<text transform="translate(1093.00 681.50) scale(0.66 1)" x="-1.57 7.58 16.57 25.72" y="0" font-size="19" fill="#808080" stroke="#808080" stroke-width="0.4"><tspan font-weight="bold" font-family="NanumGothic,'Liberation Sans',sans-serif" font-size="17.59">1</tspan>5<tspan font-weight="bold" font-family="NanumGothic,'Liberation Sans',sans-serif" font-size="17.59">1</tspan>2</text>
<text transform="translate(1139.40 681.50) scale(0.66 1)" x="-1.57 7.58 18.14 27.13" y="0" font-size="19" fill="#808080" stroke="#808080" stroke-width="0.4"><tspan font-weight="bold" font-family="NanumGothic,'Liberation Sans',sans-serif" font-size="17.59">1</tspan>57<tspan font-weight="bold" font-family="NanumGothic,'Liberation Sans',sans-serif" font-size="17.59">1</tspan></text>
<text transform="translate(1185.80 681.50) scale(0.66 1)" x="-1.57 7.58 18.14 28.70" y="0" font-size="19" fill="#808080" stroke="#808080" stroke-width="0.4"><tspan font-weight="bold" font-family="NanumGothic,'Liberation Sans',sans-serif" font-size="17.59">1</tspan>630</text>
<text transform="translate(1209.20 413.80) scale(0.66 1)" x="-0.99 4.78 11.46" y="0" font-size="12" fill="#7c7c7c" stroke="#7c7c7c" stroke-width="0.15"><tspan font-weight="bold" font-family="NanumGothic,'Liberation Sans',sans-serif" font-size="11.11">1</tspan>90</text>
<text transform="translate(1209.20 438.80) scale(0.66 1)" x="-0.99 4.78 10.47" y="0" font-size="12" fill="#7c7c7c" stroke="#7c7c7c" stroke-width="0.15"><tspan font-weight="bold" font-family="NanumGothic,'Liberation Sans',sans-serif" font-size="11.11">1</tspan>7<tspan font-weight="bold" font-family="NanumGothic,'Liberation Sans',sans-serif" font-size="11.11">1</tspan></text>
<text transform="translate(1209.20 463.80) scale(0.66 1)" x="-0.99 4.78 11.46" y="0" font-size="12" fill="#7c7c7c" stroke="#7c7c7c" stroke-width="0.15"><tspan font-weight="bold" font-family="NanumGothic,'Liberation Sans',sans-serif" font-size="11.11">1</tspan>52</text>
<text transform="translate(1209.20 488.80) scale(0.66 1)" x="-0.99 4.78 11.46" y="0" font-size="12" fill="#7c7c7c" stroke="#7c7c7c" stroke-width="0.15"><tspan font-weight="bold" font-family="NanumGothic,'Liberation Sans',sans-serif" font-size="11.11">1</tspan>33</text>
<text transform="translate(1209.20 513.80) scale(0.66 1)" x="-0.99 3.79 9.57" y="0" font-size="12" fill="#7c7c7c" stroke="#7c7c7c" stroke-width="0.15"><tspan font-weight="bold" font-family="NanumGothic,'Liberation Sans',sans-serif" font-size="11.11">1</tspan><tspan font-weight="bold" font-family="NanumGothic,'Liberation Sans',sans-serif" font-size="11.11">1</tspan>4</text>
<text transform="translate(1209.20 538.80) scale(0.66 1)" x="0.00 6.67" y="0" font-size="12" fill="#7c7c7c" stroke="#7c7c7c" stroke-width="0.15">95</text>
<text transform="translate(1209.20 563.80) scale(0.66 1)" x="0.00 6.67" y="0" font-size="12" fill="#7c7c7c" stroke="#7c7c7c" stroke-width="0.15">76</text>
<text transform="translate(1209.20 588.80) scale(0.66 1)" x="0.00 6.67" y="0" font-size="12" fill="#7c7c7c" stroke="#7c7c7c" stroke-width="0.15">57</text>
<text transform="translate(1209.20 613.80) scale(0.66 1)" x="0.00 6.67" y="0" font-size="12" fill="#7c7c7c" stroke="#7c7c7c" stroke-width="0.15">38</text>
<text transform="translate(1209.20 638.80) scale(0.66 1)" x="-0.99 4.78" y="0" font-size="12" fill="#7c7c7c" stroke="#7c7c7c" stroke-width="0.15"><tspan font-weight="bold" font-family="NanumGothic,'Liberation Sans',sans-serif" font-size="11.11">1</tspan>9</text>
<text transform="translate(0 704.2) scale(0.8128 1)" x="738.20 750.83 757.88 763.06 773.16 782.76 787.90 792.76 805.42 817.02" y="0" font-size="18.5" fill="#7a7a7a" stroke="#7a7a7a" stroke-width="0.4">Price, USD</text>
<text transform="translate(1270.2 635.0) rotate(-90) scale(0.7975 1)" x="-1.45 12.88 24.41 41.45 52.63 63.60 70.34 75.98 88.23 94.45 100.19 110.32 121.29 128.05 138.38 143.58 153.87 165.03 175.06 180.59 191.97 199.06 210.27 220.60 225.63 236.89 247.83" y="0" font-size="19.5" fill="#727272" stroke="#727272" stroke-width="0.4">Number of services provided</text>
<text transform="translate(495.00 403.00) scale(0.66 1)" x="-0.99 4.78 11.46" y="0" font-size="12" fill="#dc3545" stroke="#dc3545" stroke-width="0.25"><tspan font-weight="bold" font-family="NanumGothic,'Liberation Sans',sans-serif" font-size="11.11">1</tspan>89</text>
<rect x="20" y="710" width="41" height="21" fill="#22d89b"/>
<text transform="translate(0 729.4) scale(0.8018 1)" x="88.38 105.69 114.66 132.55 143.93 152.26 168.55 185.22 194.19 211.28 229.80 237.87" y="0" font-size="30" fill="#22d89b" stroke="#22d89b" stroke-width="0.6">= price paid</text>
<rect x="250" y="710" width="41" height="21" fill="#dc3545"/>
<text transform="translate(0 729.4) scale(0.8089 1)" x="372.08 389.28 398.04 415.75 427.02 435.20 451.28 467.85 476.61 487.30 504.38 522.19 539.48 556.87 572.98 583.32 600.40" y="0" font-size="30" fill="#dc3545" stroke="#dc3545" stroke-width="0.6">= price requested</text>
<text transform="translate(0 733.8) scale(0.8302 1)" x="1180.22 1209.39 1230.66 1254.67 1265.15 1278.70 1302.04 1322.32 1345.96 1359.95 1380.91 1409.19 1432.99 1454.10 1467.79 1480.80 1490.90 1515.52 1529.01" y="0" font-size="39.5" fill="#484848" stroke="#484848" stroke-width="0.8">HealthcareCost.info</text>
</svg></body></html>
